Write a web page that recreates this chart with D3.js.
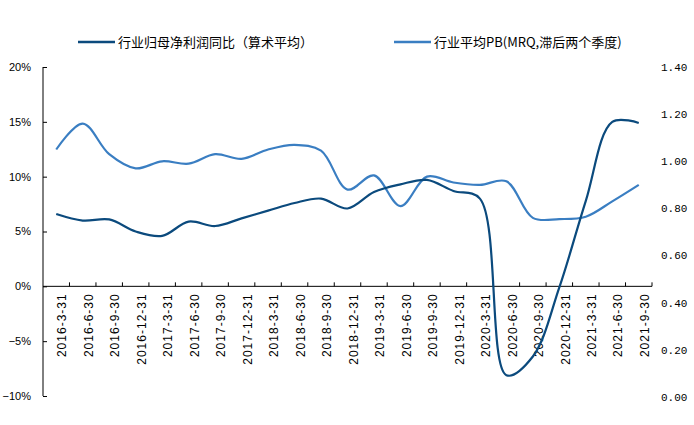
<!DOCTYPE html>
<html>
<head>
<meta charset="utf-8">
<script src="https://cdn.jsdelivr.net/npm/d3@7"></script>
<style>
  body { margin: 0; background: #fff; }
  svg { display: block; }
</style>
</head>
<body>
<div id="chart"></div>
<script>
// quarters on the category axis
var categories = ["2016-3-31", "2016-6-30", "2016-9-30", "2016-12-31",
    "2017-3-31", "2017-6-30", "2017-9-30", "2017-12-31",
    "2018-3-31", "2018-6-30", "2018-9-30", "2018-12-31",
    "2019-3-31", "2019-6-30", "2019-9-30", "2019-12-31",
    "2020-3-31", "2020-6-30", "2020-9-30", "2020-12-31",
    "2021-3-31", "2021-6-30", "2021-9-30"];

// 行业归母净利润同比 (%), left axis
var profitYoY = [6.6, 6.0, 6.1, 5.0, 4.6, 5.9, 5.5, 6.2, 6.9, 7.6, 8.0, 7.1,
    8.6, 9.3, 9.7, 8.7, 8.0, -8.1, -6.4, -0.1, 7.8, 15.0, 14.9];

// 行业平均PB, right axis
var avgPB = [1.05, 1.16, 1.03, 0.97, 1.0, 0.99, 1.03, 1.01, 1.05, 1.07, 1.045, 0.88,
    0.94, 0.81, 0.935, 0.91, 0.90, 0.915, 0.76, 0.755, 0.765, 0.83, 0.90];

var leftTicks = [20, 15, 10, 5, 0, -5, -10];
var rightTicks = [0, 0.2, 0.4, 0.6, 0.8, 1.0, 1.2, 1.4];

var legendNames = ["行业归母净利润同比（算术平均）", "行业平均PB(MRQ,滞后两个季度)"];
var colors = ["#0b4a7d", "#3a7ec2"];

var W = 694, H = 425;
var plot = { left: 43, right: 652, top: 67, bottom: 396 };

var svg = d3.select("#chart").append("svg")
    .attr("width", W)
    .attr("height", H);

var x = d3.scaleBand()
    .domain(categories)
    .range([plot.left, plot.right]);

var yL = d3.scaleLinear().domain([-10, 20]).range([plot.bottom, plot.top]);
var yR = d3.scaleLinear().domain([0, 1.4]).range([plot.bottom + 1, plot.top]);

var cx = function (i) { return x(categories[i]) + x.bandwidth() / 2; };

// left axis (ticks inside)
var axL = svg.append("g")
    .attr("transform", "translate(" + plot.left + ",0)")
    .call(d3.axisRight(yL).tickValues(leftTicks).tickSize(4).tickFormat(""));
axL.select(".domain").attr("d", "M0," + yL(20) + "V" + yL(-10));
axL.selectAll("line, path").attr("stroke", "#000");

svg.append("g").selectAll("text")
    .data(leftTicks)
    .enter().append("text")
    .attr("x", 31)
    .attr("y", function (d) { return yL(d); })
    .attr("dy", "0.35em")
    .attr("text-anchor", "end")
    .style("font-family", "'Liberation Sans', Arial, sans-serif")
    .style("font-size", "11px")
    .text(function (d) { return (d < 0 ? "\u2212" + (-d) : d) + "%"; });

// right labels, no axis line
svg.append("g").selectAll("text")
    .data(rightTicks)
    .enter().append("text")
    .attr("x", 661)
    .attr("y", function (d) { return yR(d); })
    .attr("dy", "0.35em")
    .style("font-family", "'Liberation Mono', 'DejaVu Sans Mono', monospace")
    .style("font-size", "11px")
    .text(function (d) { return d.toFixed(2); });

// category axis on the zero line
var axX = svg.append("g")
    .attr("transform", "translate(0," + yL(0) + ")")
    .call(d3.axisTop(x).tickSize(0).tickFormat(""));
axX.select(".domain").attr("d", "M" + plot.left + ",0H" + plot.right).attr("stroke", "#000");

svg.append("g").selectAll("line")
    .data(categories)
    .enter().append("line")
    .attr("x1", function (d) { return x(d) + x.bandwidth(); })
    .attr("x2", function (d) { return x(d) + x.bandwidth(); })
    .attr("y1", yL(0) - 4)
    .attr("y2", yL(0))
    .attr("stroke", "#000");

svg.append("g").selectAll("text")
    .data(categories)
    .enter().append("text")
    .attr("transform", function (d, i) {
        return "translate(" + (cx(i) + 6) + "," + (yL(0) + 7) + ") rotate(-90)";
    })
    .attr("dy", "0.35em")
    .attr("text-anchor", "end")
    .style("font-family", "'Liberation Sans', Arial, sans-serif")
    .style("font-size", "12px")
    .style("letter-spacing", "1px")
    .text(function (d) { return d; });

// series
var lineL = d3.line()
    .x(function (d, i) { return cx(i); })
    .y(function (d) { return yL(d); })
    .curve(d3.curveCatmullRom.alpha(0.5));

var lineR = d3.line()
    .x(function (d, i) { return cx(i); })
    .y(function (d) { return yR(d); })
    .curve(d3.curveCatmullRom.alpha(0.5));

svg.append("path")
    .datum(avgPB)
    .attr("d", lineR)
    .attr("fill", "none")
    .attr("stroke", colors[1])
    .attr("stroke-width", 2.2);

svg.append("path")
    .datum(profitYoY)
    .attr("d", lineL)
    .attr("fill", "none")
    .attr("stroke", colors[0])
    .attr("stroke-width", 2.2);

// legend
var legendX = [78, 394];
var legend = svg.append("g").selectAll("g")
    .data(legendNames)
    .enter().append("g")
    .attr("transform", function (d, i) { return "translate(" + legendX[i] + ",42)"; });

legend.append("line")
    .attr("x1", 0)
    .attr("x2", 37)
    .attr("stroke", function (d, i) { return colors[i]; })
    .attr("stroke-width", 2.5);

legend.append("text")
    .attr("x", 40)
    .attr("dy", "0.35em")
    .style("font-family", "'Noto Sans CJK SC', sans-serif")
    .style("font-size", "13px")
    .text(function (d) { return d; });
</script>
</body>
</html>
